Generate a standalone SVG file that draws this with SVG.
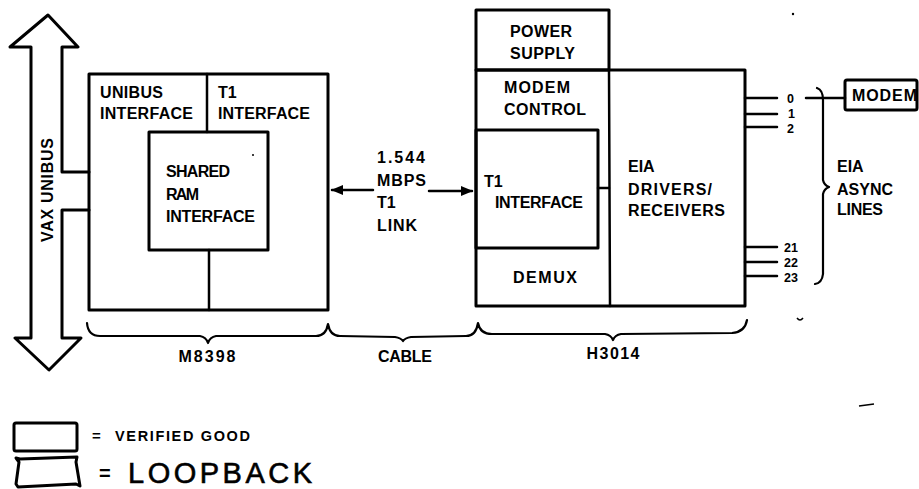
<svg xmlns="http://www.w3.org/2000/svg" width="919" height="489" viewBox="0 0 919 489">
<style>
.t{font-family:"Liberation Sans",Arial,sans-serif;font-weight:bold;font-size:16px;fill:#000}
.s{font-family:"Liberation Sans",Arial,sans-serif;font-weight:bold;font-size:12.5px;fill:#000}
.b{fill:none;stroke:#000;stroke-width:3;stroke-linejoin:round;stroke-linecap:round}
.l{fill:none;stroke:#000;stroke-width:2.5;stroke-linecap:round;stroke-linejoin:round}
.br{fill:none;stroke:#000;stroke-width:2.2;stroke-linecap:round;stroke-linejoin:round}
</style>
<defs>
<marker id="ah" viewBox="0 0 10 10" refX="9" refY="5" markerWidth="5" markerHeight="5" orient="auto-start-reverse">
<path d="M0,1 L10,5 L0,9 Z" fill="#000"/>
</marker>
</defs>
<rect width="919" height="489" fill="#fff"/>

<g id="vax-unibus">
<path class="b" d="M89,210 L62,210 L62,338 L81,338 L49,370 L15,338 L31,338 L31,47 L10,47 L48,15 L78,47 L62,47 L62,172 L89,172"/>
<text class="t" transform="translate(53,190) rotate(-90)" text-anchor="middle" textLength="104" lengthAdjust="spacing">VAX UNIBUS</text>
</g>

<g id="m8398">
<rect class="b" x="89" y="74" width="239" height="236"/>
<line class="l" x1="207" y1="74" x2="207" y2="132"/>
<line class="l" x1="209" y1="250" x2="209" y2="310"/>
<text class="t" x="100" y="98" textLength="63" lengthAdjust="spacing">UNIBUS</text>
<text class="t" x="100" y="119" textLength="93" lengthAdjust="spacing">INTERFACE</text>
<text class="t" x="218" y="98">T1</text>
<text class="t" x="218" y="119" textLength="92" lengthAdjust="spacing">INTERFACE</text>
</g>

<g id="shared-ram">
<rect class="b" x="149" y="132" width="119" height="118"/>
<text class="t" x="166" y="177" textLength="64" lengthAdjust="spacing">SHARED</text>
<text class="t" x="166" y="200" textLength="33" lengthAdjust="spacing">RAM</text>
<text class="t" x="166" y="222" textLength="89" lengthAdjust="spacing">INTERFACE</text>
</g>

<g id="power-supply">
<rect class="b" x="476" y="10" width="133" height="60"/>
<text class="t" x="510" y="37" textLength="62" lengthAdjust="spacing">POWER</text>
<text class="t" x="510" y="59" textLength="65" lengthAdjust="spacing">SUPPLY</text>
</g>

<g id="h3014">
<path class="b" d="M476,70 L476,306 L745,306 L745,70 L476,70"/>
<line class="l" x1="609" y1="70" x2="610" y2="306"/>
<line class="l" x1="598" y1="188" x2="609" y2="188"/>
<text class="t" x="504" y="93" textLength="66" lengthAdjust="spacing">MODEM</text>
<text class="t" x="504" y="115" textLength="82" lengthAdjust="spacing">CONTROL</text>
<text class="t" x="545" y="283" text-anchor="middle" textLength="64" lengthAdjust="spacing">DEMUX</text>
<text class="t" x="628" y="172">EIA</text>
<text class="t" x="628" y="195" textLength="84" lengthAdjust="spacing">DRIVERS/</text>
<text class="t" x="628" y="216" textLength="97" lengthAdjust="spacing">RECEIVERS</text>
</g>

<g id="t1-interface-h3014">
<rect class="b" x="476" y="130" width="122" height="118"/>
<text class="t" x="484" y="187">T1</text>
<text class="t" x="495" y="208" textLength="88" lengthAdjust="spacing">INTERFACE</text>
</g>

<g id="modem">
<rect class="b" x="845" y="80" width="72" height="30" rx="2"/>
<text class="t" x="852" y="101" textLength="65" lengthAdjust="spacing">MODEM</text>
</g>

<g id="connectors">
<line class="l" x1="373" y1="190" x2="332" y2="190" marker-end="url(#ah)"/>
<line class="l" x1="429" y1="191" x2="472" y2="191" marker-end="url(#ah)"/>
<line class="l" x1="745" y1="98" x2="777" y2="98"/>
<line class="l" x1="745" y1="114" x2="777" y2="114"/>
<line class="l" x1="745" y1="127" x2="777" y2="127"/>
<line class="l" x1="745" y1="247" x2="777" y2="247"/>
<line class="l" x1="745" y1="262" x2="777" y2="262"/>
<line class="l" x1="745" y1="276" x2="777" y2="276"/>
<line class="l" x1="806" y1="98" x2="845" y2="98"/>
</g>

<g id="link-label">
<text class="t" x="377" y="163" textLength="48" lengthAdjust="spacing">1.544</text>
<text class="t" x="377" y="186" textLength="49" lengthAdjust="spacing">MBPS</text>
<text class="t" x="377" y="208">T1</text>
<text class="t" x="377" y="231" textLength="40" lengthAdjust="spacing">LINK</text>
</g>

<g id="line-numbers">
<text class="s" x="787" y="103">0</text>
<text class="s" x="788" y="118">1</text>
<text class="s" x="787" y="133">2</text>
<text class="s" x="784" y="252">21</text>
<text class="s" x="784" y="267">22</text>
<text class="s" x="784" y="282">23</text>
</g>

<g id="braces">
<path class="br" d="M87,323 Q88,336 100,336 L200,336 Q206,337 208,343 Q210,337 216,336 L316,336 Q326,336 328,324 Q330,336 340,336 L395,337 Q401,338 403,341 Q405,338 411,337 L466,336 Q476,336 478,323 Q480,334 492,334 L605,334 Q611,335 613,340 Q615,335 621,334 L732,333 Q745,332 747,320"/>
<path class="br" d="M817,88 Q823,90 823,100 L823,180 Q824,185 829,187 Q824,189 823,194 L823,274 Q822,283 815,284"/>
<text class="t" x="207" y="362" text-anchor="middle" textLength="57" lengthAdjust="spacing">M8398</text>
<text class="t" x="405" y="362" text-anchor="middle" textLength="54" lengthAdjust="spacing">CABLE</text>
<text class="t" x="613" y="359" text-anchor="middle" textLength="53" lengthAdjust="spacing">H3014</text>
<text class="t" x="837" y="172">EIA</text>
<text class="t" x="837" y="195" textLength="56" lengthAdjust="spacing">ASYNC</text>
<text class="t" x="837" y="215" textLength="46" lengthAdjust="spacing">LINES</text>
</g>

<g id="legend">
<rect class="b" x="14" y="423" width="63" height="28" rx="2"/>
<text x="92" y="441" style="font-family:'Liberation Sans',Arial,sans-serif;font-weight:bold;font-size:15px">=</text>
<text x="115" y="441" textLength="135" lengthAdjust="spacing" style="font-family:'Liberation Sans',Arial,sans-serif;font-weight:bold;font-size:14.5px">VERIFIED GOOD</text>
<path class="b" d="M19,462 L16,458 L20,459 L77,457 L76,462 L80,486 L76,484 L18,487 L16,484 L19,462"/>
<text x="99" y="480" style="font-family:'Liberation Sans',Arial,sans-serif;font-weight:bold;font-size:20px">=</text>
<text x="128" y="483" textLength="184" lengthAdjust="spacing" style="font-family:'Liberation Sans',Arial,sans-serif;font-size:29px;stroke:#000;stroke-width:0.6">LOOPBACK</text>
</g>

<g id="specks" fill="#000">
<circle cx="253" cy="155" r="1"/>
<circle cx="793" cy="14" r="1.2"/>
<path d="M797,318 Q800,322 803,318" fill="none" stroke="#000" stroke-width="1.5"/>
<path d="M859,406 L874,404" fill="none" stroke="#000" stroke-width="1.5"/>
</g>
</svg>
